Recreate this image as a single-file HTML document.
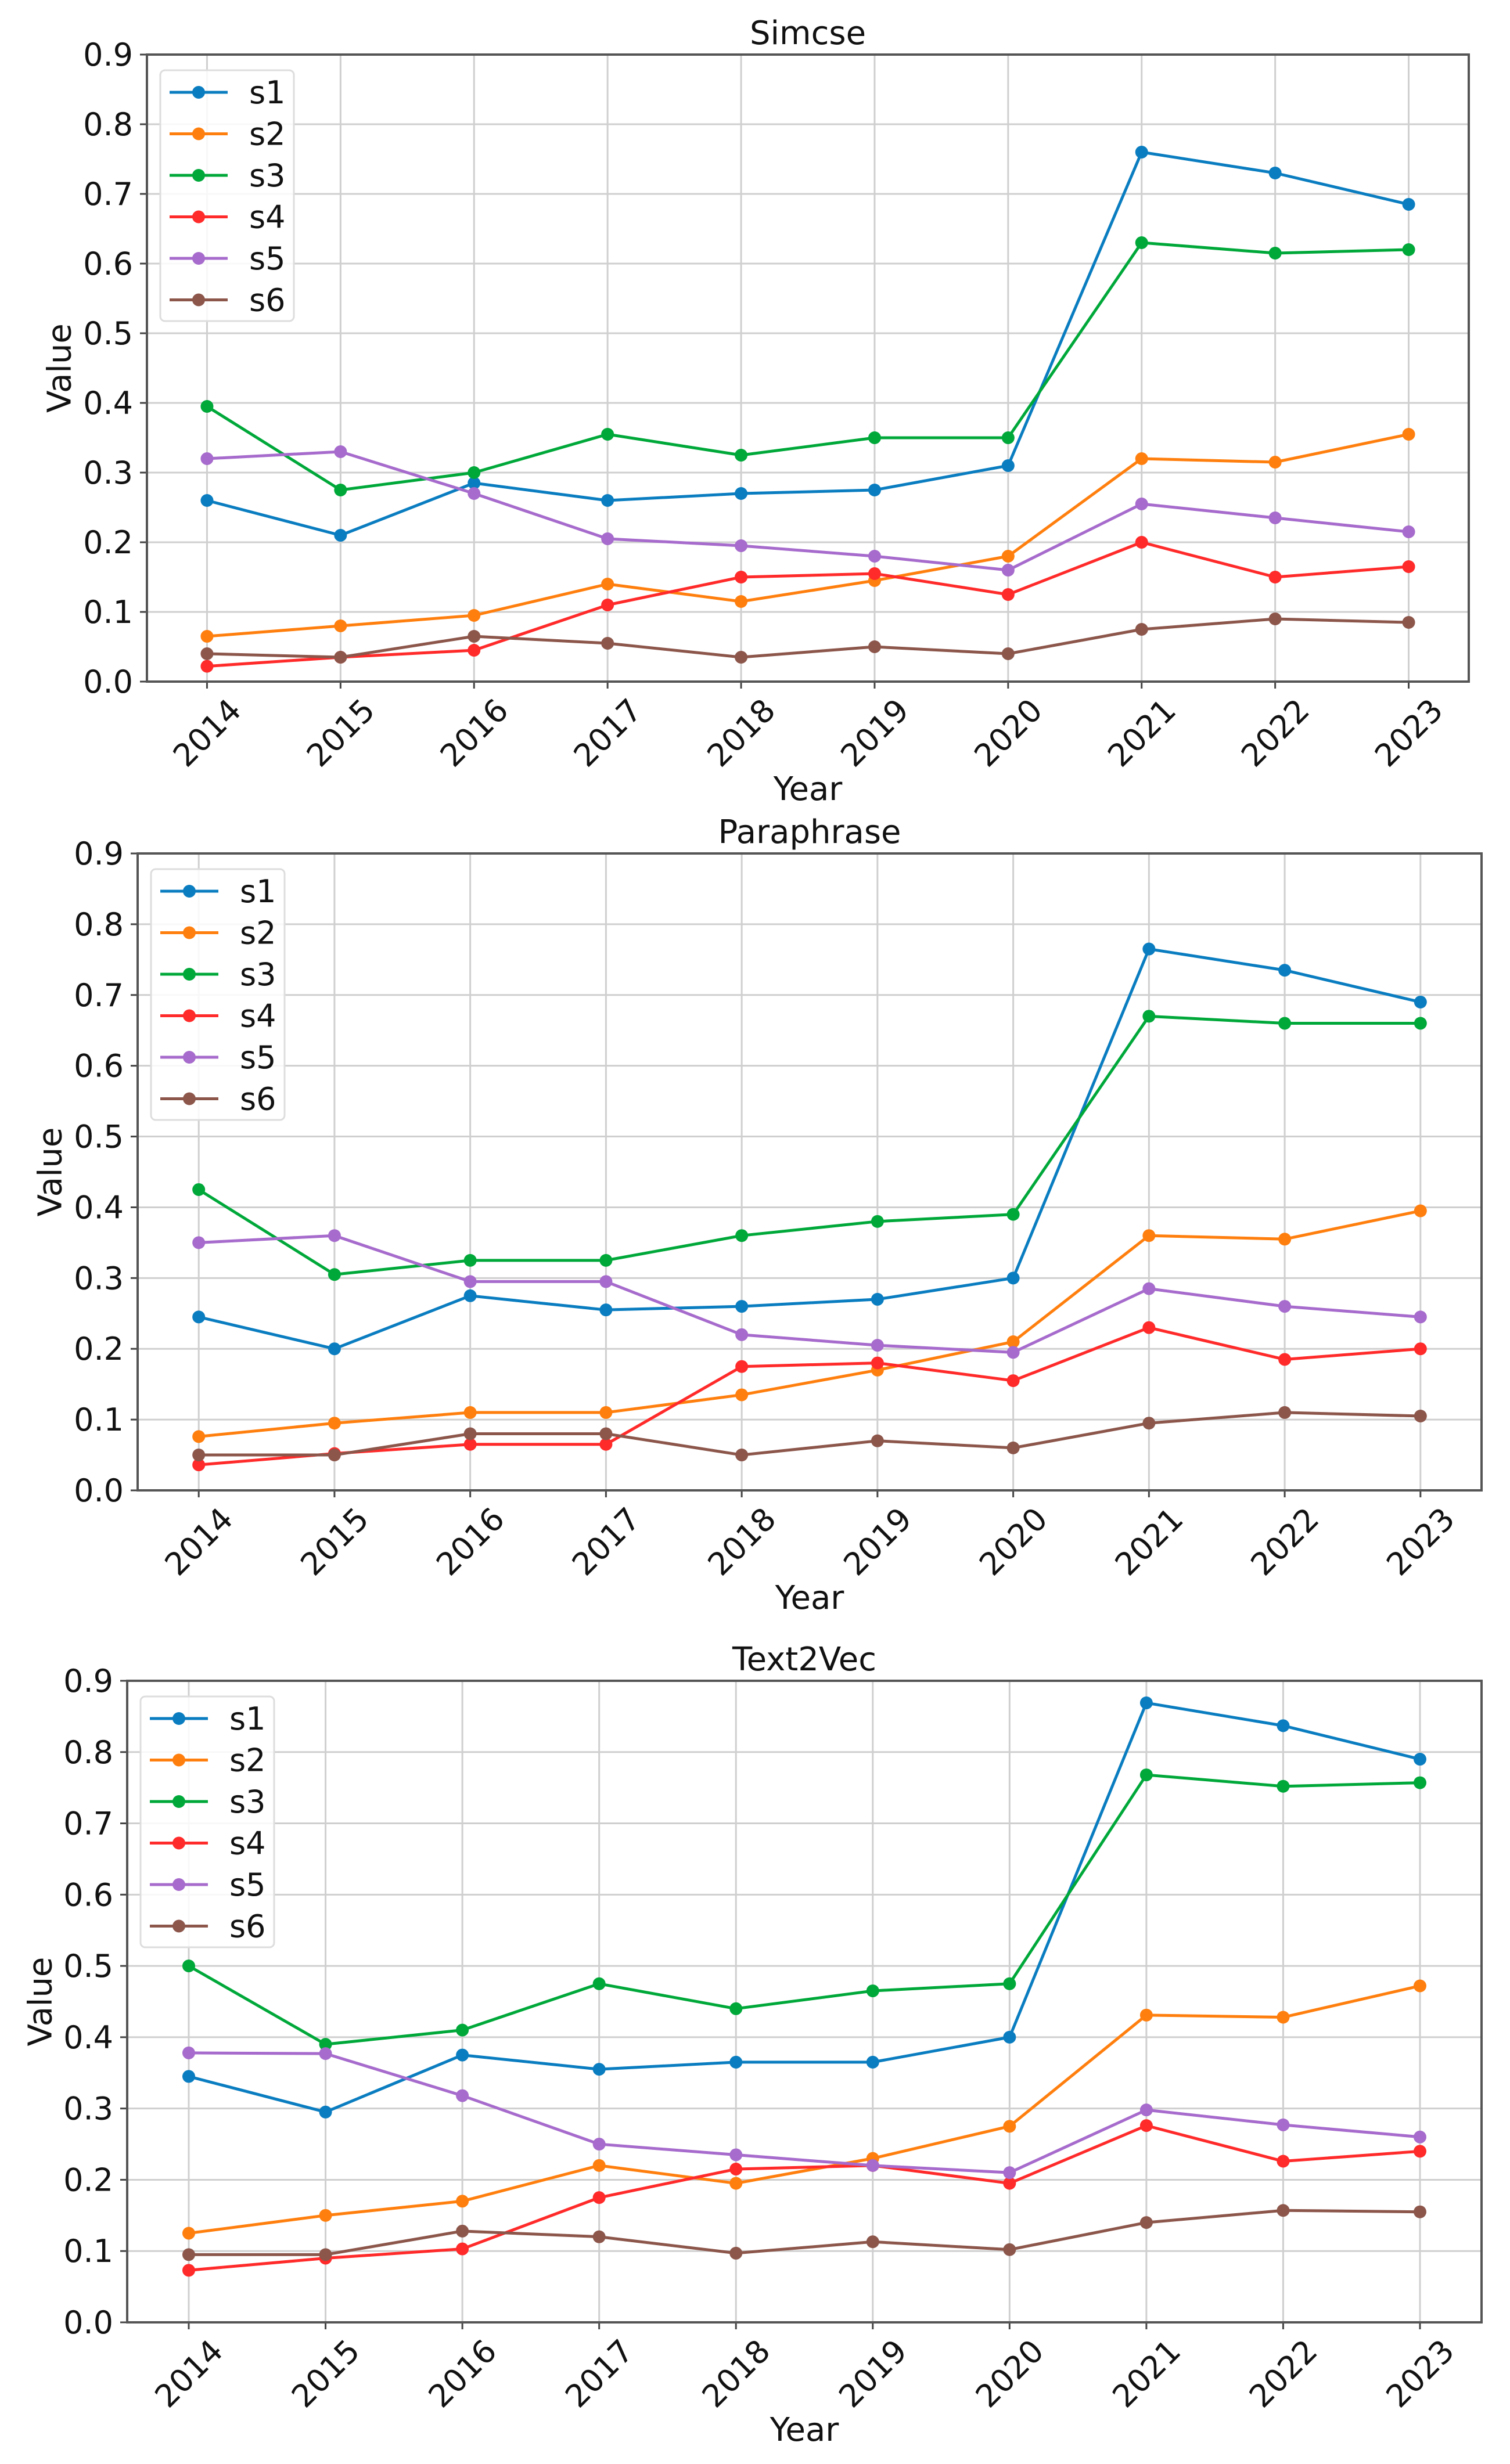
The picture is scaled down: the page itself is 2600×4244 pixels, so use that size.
<!DOCTYPE html>
<html><head><meta charset="utf-8"><style>
html,body{margin:0;padding:0;background:#fff;}
svg{display:block;font-family:"DejaVu Sans","Liberation Sans",sans-serif;}
</style></head><body>
<svg id="fig" width="2600" height="4244" viewBox="0 0 2600 4244"></svg>
<script>
const years = [2014,2015,2016,2017,2018,2019,2020,2021,2022,2023];
const yTicks = [0,0.1,0.2,0.3,0.4,0.5,0.6,0.7,0.8,0.9];
const yTickLabels = ["0.0","0.1","0.2","0.3","0.4","0.5","0.6","0.7","0.8","0.9"];
const seriesNames = ["s1","s2","s3","s4","s5","s6"];
const titles = ["Simcse","Paraphrase","Text2Vec"];
const simS1 = [0.26,0.21,0.285,0.26,0.27,0.275,0.31,0.76,0.73,0.685];
const simS2 = [0.065,0.08,0.095,0.14,0.115,0.145,0.18,0.32,0.315,0.355];
const simS3 = [0.395,0.275,0.30,0.355,0.325,0.35,0.35,0.63,0.615,0.62];
const simS4 = [0.022,0.035,0.045,0.11,0.15,0.155,0.125,0.20,0.15,0.165];
const simS5 = [0.32,0.33,0.27,0.205,0.195,0.18,0.16,0.255,0.235,0.215];
const simS6 = [0.04,0.035,0.065,0.055,0.035,0.05,0.04,0.075,0.09,0.085];
const parS1 = [0.245,0.2,0.275,0.255,0.26,0.27,0.30,0.765,0.735,0.69];
const parS2 = [0.076,0.095,0.11,0.11,0.135,0.17,0.21,0.36,0.355,0.395];
const parS3 = [0.425,0.305,0.325,0.325,0.36,0.38,0.39,0.67,0.66,0.66];
const parS4 = [0.036,0.052,0.065,0.065,0.175,0.18,0.155,0.23,0.185,0.2];
const parS5 = [0.35,0.36,0.295,0.295,0.22,0.205,0.195,0.285,0.26,0.245];
const parS6 = [0.05,0.05,0.08,0.08,0.05,0.07,0.06,0.095,0.11,0.105];
const t2vS1 = [0.345,0.295,0.375,0.355,0.365,0.365,0.40,0.869,0.837,0.79];
const t2vS2 = [0.125,0.15,0.17,0.22,0.195,0.23,0.275,0.431,0.428,0.472];
const t2vS3 = [0.50,0.39,0.41,0.475,0.44,0.465,0.475,0.768,0.752,0.757];
const t2vS4 = [0.073,0.09,0.103,0.175,0.215,0.22,0.195,0.276,0.226,0.24];
const t2vS5 = [0.378,0.377,0.318,0.25,0.235,0.22,0.21,0.298,0.277,0.26];
const t2vS6 = [0.095,0.095,0.128,0.12,0.097,0.113,0.102,0.14,0.157,0.155];

const colors = ["#1f77b4","#ff7f0e","#2ca02c","#ff2a2a","#a66bcc","#8c564b"];
colors[0]="#0a7dc0"; colors[2]="#00a83a";
const NS="http://www.w3.org/2000/svg";
const svg=document.getElementById('fig');
function mk(tag,attrs,parent){const e=document.createElementNS(NS,tag);for(const k in attrs)e.setAttribute(k,attrs[k]);(parent||svg).appendChild(e);return e;}

const panels=[
 {L:253,R:2529,T:94,B:1174,data:[simS1,simS2,simS3,simS4,simS5,simS6],ylx:103},
 {L:237,R:2551,T:1470,B:2567,data:[parS1,parS2,parS3,parS4,parS5,parS6],ylx:87},
 {L:219,R:2551,T:2895,B:4000,data:[t2vS1,t2vS2,t2vS3,t2vS4,t2vS5,t2vS6],ylx:70}
];
panels.forEach((p,pi)=>{
 const g=mk('g',{});
 
 
 const x=y=>p.L+(p.R-p.L)*((y-years[0])+0.45)/((years[years.length-1]-years[0])+0.9);
 const yv=v=>p.B-(p.B-p.T)*v/0.9;
 // grid
 yTicks.forEach((t,i)=>{
  const gl=mk('line',{x1:p.L,x2:p.R,y1:yv(t),y2:yv(t),stroke:'#cfcfcf','stroke-width':3},g);
  
  
  mk('line',{x1:p.L-12,x2:p.L,y1:yv(t),y2:yv(t),stroke:'#444','stroke-width':3},g);
  const tl=mk('text',{x:p.L-24,y:yv(t)+19,'text-anchor':'end','font-size':54,fill:'#111'},g);
  tl.textContent=yTickLabels[i];
  
  
 });
 years.forEach(yr=>{
  const gl=mk('line',{x1:x(yr),x2:x(yr),y1:p.T,y2:p.B,stroke:'#cfcfcf','stroke-width':3},g);
  
  
  mk('line',{x1:x(yr),x2:x(yr),y1:p.B,y2:p.B+12,stroke:'#444','stroke-width':3},g);
  const cx=x(yr), cy=p.B+88;
  const tl=mk('text',{x:cx,y:cy+19,'text-anchor':'middle','font-size':54,fill:'#111',transform:`rotate(-45 ${cx} ${cy})`},g);
  tl.textContent=yr;
  
  
 });
 const fr=mk('rect',{x:p.L,y:p.T,width:p.R-p.L,height:p.B-p.T,fill:'none',stroke:'#555','stroke-width':4},g);
 
 
 // series
 p.data.forEach((arr,si)=>{
  const pts=arr.map((v,i)=>x(years[i])+','+yv(v)).join(' ');
  const pl=mk('polyline',{points:pts,fill:'none',stroke:colors[si],'stroke-width':5,'stroke-linejoin':'round'},g);
  
  
  arr.forEach((v,i)=>{
   const c=mk('circle',{cx:x(years[i]),cy:yv(v),r:11,fill:colors[si]},g);
   
   
  });
 });
 // title & axis labels
 const tt=mk('text',{x:(p.L+p.R)/2,y:p.T-18,'text-anchor':'middle','font-size':56,fill:'#111'},g);
 tt.textContent=titles[pi];
 
 
 const xl=mk('text',{x:(p.L+p.R)/2,y:p.B+204,'text-anchor':'middle','font-size':56,fill:'#111'},g);
 xl.textContent='Year';
 
 
 const my=(p.T+p.B)/2;
 const yl=mk('text',{x:p.ylx,y:my,'text-anchor':'middle','font-size':56,fill:'#111',transform:`rotate(-90 ${p.ylx} ${my})`,'dominant-baseline':'central'},g);
 yl.textContent='Value';
 
 
 // legend
 const lx=p.L+23, ly=p.T+27;
 const lg=mk('g',{},g);
 
 
 mk('rect',{x:lx,y:ly,width:230,height:432,rx:8,fill:'#fff','fill-opacity':0.85,stroke:'#ddd','stroke-width':3},lg);
 seriesNames.forEach((n,si)=>{
  const ey=ly+38+si*71.5;
  const e=mk('g',{},lg);
  
  
  mk('line',{x1:lx+16,x2:lx+116,y1:ey,y2:ey,stroke:colors[si],'stroke-width':5},e);
  mk('circle',{cx:lx+66,cy:ey,r:11,fill:colors[si]},e);
  const t=mk('text',{x:lx+153,y:ey+19,'font-size':54,fill:'#111'},e);
  t.textContent=n;
 });
});
</script>
</body></html>
